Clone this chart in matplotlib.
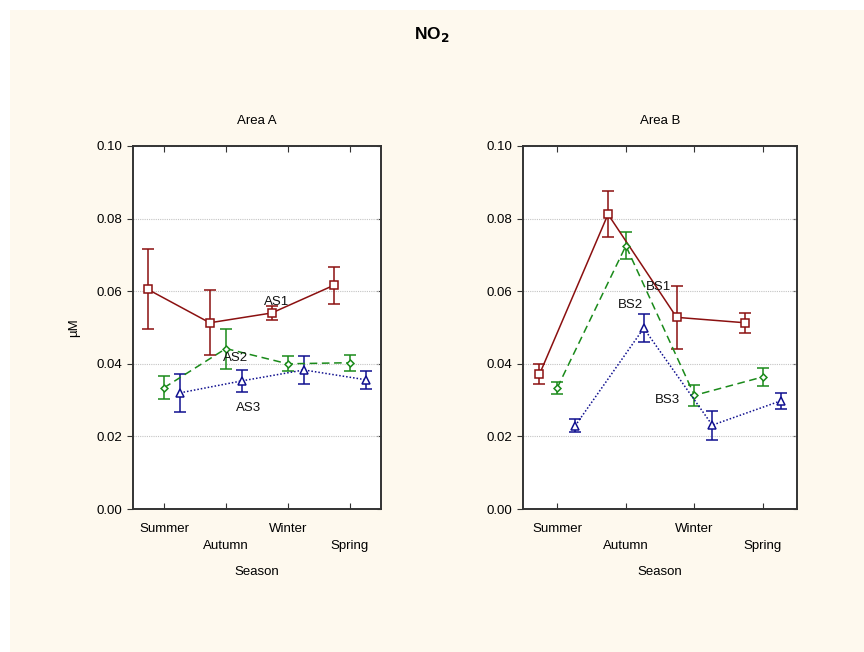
import matplotlib
matplotlib.use("Agg")
import matplotlib.pyplot as plt
from matplotlib.patches import Rectangle
import numpy as np

plt.rcParams['font.family'] = ['Liberation Sans', 'DejaVu Sans']

seasons = ["Summer", "Autumn", "Winter", "Spring"]

# Area A: station means and error half-widths (µM)
as1_mean = [0.0605, 0.0513, 0.0540, 0.0616]
as1_err = [0.0110, 0.0090, 0.0020, 0.0050]
as2_mean = [0.0334, 0.0442, 0.0400, 0.0403]
as2_err = [0.0032, 0.0055, 0.0021, 0.0022]
as3_mean = [0.0320, 0.0353, 0.0383, 0.0356]
as3_err = [0.0053, 0.0031, 0.0039, 0.0025]

# Area B
bs1_mean = [0.0371, 0.0812, 0.0528, 0.0513]
bs1_err = [0.0028, 0.0064, 0.0087, 0.0027]
bs2_mean = [0.0334, 0.0725, 0.0313, 0.0364]
bs2_err = [0.0017, 0.0037, 0.0029, 0.0025]
bs3_mean = [0.0229, 0.0498, 0.0231, 0.0298]
bs3_err = [0.0018, 0.0038, 0.0040, 0.0022]

RED = "#8b1010"
GREEN = "#1a8a1a"
BLUE = "#10108f"
CREAM = "#fef9ee"

fig = plt.figure(figsize=(8.64, 6.52), dpi=100, facecolor="white")
fig.patches.append(Rectangle((10 / 864, 0), 1, 1 - 10 / 652, transform=fig.transFigure,
                             facecolor=CREAM, edgecolor="none", zorder=-10))

W, H = 864, 652
def ax_rect(l, r, t, b):
    return [l / W, (H - b) / H, (r - l) / W, (b - t) / H]

axA = fig.add_axes(ax_rect(133, 380.7, 146, 509))
axB = fig.add_axes(ax_rect(523, 797.3, 146, 509))

styles = [
    dict(color=RED, ls="-", marker="s", ms=6, dx=-0.26),
    dict(color=GREEN, ls=(0, (5, 3)), marker="D", ms=3.5, dx=0.0),
    dict(color=BLUE, ls=(0, (1, 1.3)), marker="^", ms=5.5, dx=0.26),
]

yticks = np.arange(0, 0.101, 0.02)

def draw_panel(ax, series, title, labels):
    x = np.arange(len(seasons))
    for (mean, err), st in zip(series, styles):
        ax.errorbar(x + st["dx"], mean, yerr=err, color=st["color"], ls=st["ls"],
                    lw=1.1, marker=st["marker"], ms=st["ms"], mfc="white",
                    mec=st["color"], mew=1.1, capsize=4, capthick=1.2, elinewidth=1.1,
                    zorder=3)
    for txt, tx, ty in labels:
        ax.text(tx, ty, txt, ha="center", va="center", fontsize=9.5, color="#111111", zorder=5)
    ax.set_xlim(-0.5, 3.5)
    ax.set_ylim(0, 0.10)
    ax.set_yticks(yticks)
    ax.set_yticklabels([f"{v:.2f}" for v in yticks], fontsize=9.5)
    ax.set_xticks(x)
    ax.set_xticklabels(["Summer", "\nAutumn", "Winter", "\nSpring"], fontsize=9.5,
                       linespacing=1.55)
    ax.tick_params(axis="x", direction="in", top=True, length=4, pad=10, color="#333333")
    ax.tick_params(axis="y", direction="out", length=4, color="#333333")
    right = ax.secondary_yaxis("right")
    right.set_yticks(yticks)
    right.tick_params(direction="in", length=3, color="#333333", labelright=False)
    right.spines["right"].set_visible(False)
    ax.grid(axis="y", color="#c4c4c4", ls=(0, (1, 1)), lw=0.8, zorder=0)
    for sp in ax.spines.values():
        sp.set_color("#333333")
        sp.set_linewidth(1.4)
    ax.set_facecolor("white")
    ax.set_xlabel("Season", fontsize=9.5, labelpad=10)
    ax.set_title(title, fontsize=9.5, pad=16)

draw_panel(axA, [(as1_mean, as1_err), (as2_mean, as2_err), (as3_mean, as3_err)], "Area A",
           [("AS1", 1.82, 0.0569), ("AS2", 1.15, 0.0415), ("AS3", 1.36, 0.0277)])
draw_panel(axB, [(bs1_mean, bs1_err), (bs2_mean, bs2_err), (bs3_mean, bs3_err)], "Area B",
           [("BS1", 1.48, 0.0612), ("BS2", 1.06, 0.0562), ("BS3", 1.60, 0.0300)])

axA.set_ylabel("µM", fontsize=9.5, labelpad=12)

fig.text(432 / W, 1 - 35 / H, r"NO$_\mathbf{2}$", ha="center", va="center",
         fontsize=12.5, fontweight="bold")

fig.savefig("out.png", dpi=100, facecolor=fig.get_facecolor())
